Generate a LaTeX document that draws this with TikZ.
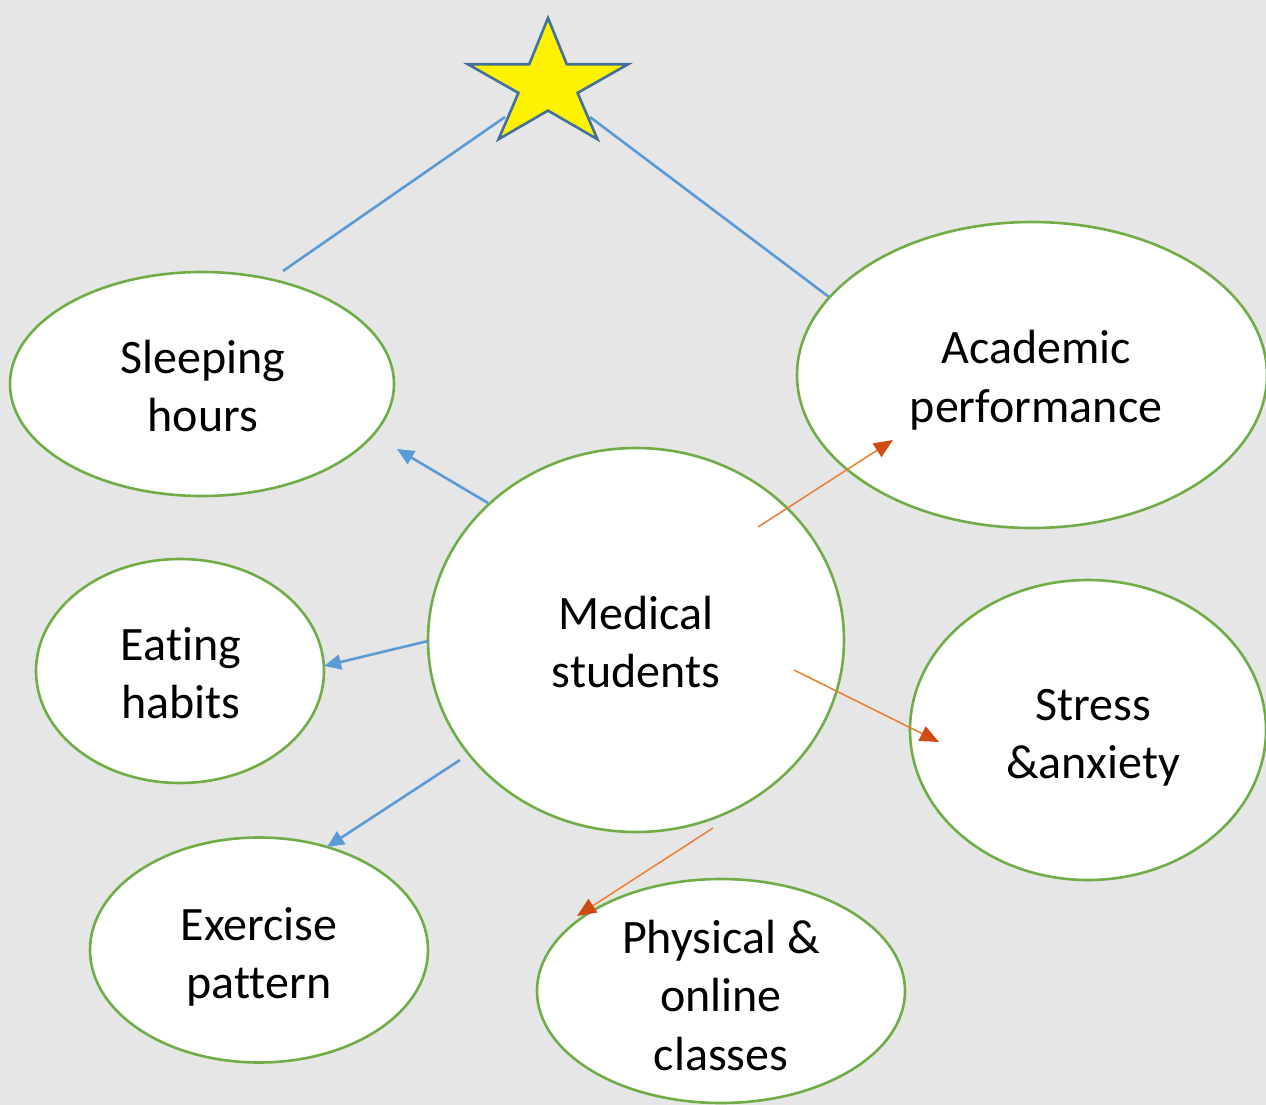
\documentclass[tikz,border=0pt]{standalone}
\usepackage{fontspec}
\setmainfont{Carlito}[Ligatures=CommonOff]
\usetikzlibrary{shapes.geometric,arrows.meta}
\definecolor{bg}{HTML}{E7E6E6}
\definecolor{grn}{HTML}{70AD47}
\definecolor{blu}{HTML}{5B9BD5}
\definecolor{org}{HTML}{ED7D31}
\definecolor{orgtip}{HTML}{D04A14}
\definecolor{starline}{HTML}{41719C}
\begin{document}
\begin{tikzpicture}[x=1pt,y=-1pt,
  bubble/.style={ellipse,draw=grn,line width=2.6pt,fill=white,inner sep=0pt},
  txt/.style={align=center,inner sep=0pt,font=\fontsize{48}{58.5}\selectfont},
  bluline/.style={draw=blu,line width=2.6pt},
  bluarrow/.style={draw=blu,line width=2.6pt,-{Triangle[length=17pt,width=15pt]}},
  orgarrow/.style={draw=org,line width=1.5pt,-{Triangle[length=19pt,width=16pt,color=orgtip]}}]
\fill[bg] (0,0) rectangle (1266,1105);
\useasboundingbox (0,0) rectangle (1266,1105);
% star line ends
\coordinate (sl) at (505,117);
\coordinate (sr) at (590,117);
\coordinate (slineA) at (283,271);
\coordinate (slineB) at (829,297);
\draw[bluline] (slineA) -- (sl);
\draw[bluline] (slineB) -- (sr);
% star
\filldraw[fill=yellow,draw=starline,line width=2.6pt,line join=miter]
  (548,18) -- (566.8,64.3) -- (628,64.3) -- (577.6,92.9) -- (597.4,139.2)
  -- (548,110.6) -- (498.6,139.2) -- (518.4,92.9) -- (468,64.3) -- (529.2,64.3) -- cycle;
% bubbles
\node[bubble,minimum width=384pt,minimum height=224pt] (sleep) at (202,384) {};
\node[bubble,minimum width=470pt,minimum height=306pt] (acad) at (1032,375) {};
\node[bubble,minimum width=416pt,minimum height=384pt] (med) at (636,640) {};
\node[bubble,minimum width=288pt,minimum height=224pt] (eat) at (180,671) {};
\node[bubble,minimum width=356pt,minimum height=300pt] (stress) at (1088,730) {};
\node[bubble,minimum width=338pt,minimum height=225pt] (exer) at (259,950) {};
\node[bubble,minimum width=368pt,minimum height=224pt] (phys) at (721,991) {};
% texts
\node[txt] (sleept) at (203,386) {Sleeping\\hours};
\node[txt] (acadt) at (1036,380) {Academic\\performance};
\node[txt] (medt) at (636,642) {Medical\\students};
\node[txt] (eatt) at (181,673) {Eating\\habits};
\node[txt] (stresst) at (1093,738) {Stress\\\&anxiety};
\node[txt] (exert) at (259,957) {Exercise\\pattern};
\node[txt] (physt) at (721,995) {Physical \&\\online\\classes};
% connector ends
\coordinate (a1s) at (488,503); \coordinate (a1e) at (397,449);
\coordinate (a2s) at (428,641); \coordinate (a2e) at (324,666);
\coordinate (a3s) at (460,760); \coordinate (a3e) at (327,847);
\coordinate (b1s) at (758,527); \coordinate (b1e) at (893,440);
\coordinate (b2s) at (794,670); \coordinate (b2e) at (939,742);
\coordinate (b3s) at (713,828); \coordinate (b3e) at (577,916);
\draw[bluarrow] (a1s) -- (a1e);
\draw[bluarrow] (a2s) -- (a2e);
\draw[bluarrow] (a3s) -- (a3e);
\draw[orgarrow] (b1s) -- (b1e);
\draw[orgarrow] (b2s) -- (b2e);
\draw[orgarrow] (b3s) -- (b3e);
\end{tikzpicture}
\end{document}
